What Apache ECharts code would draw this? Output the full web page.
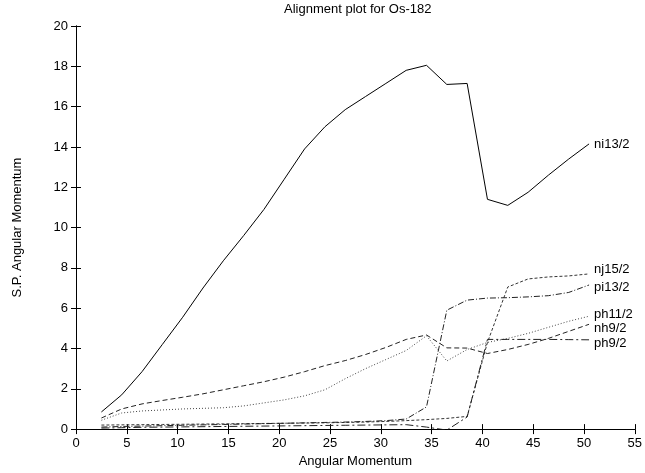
<!DOCTYPE html>
<html><head><meta charset="utf-8">
<script src="https://cdn.jsdelivr.net/npm/echarts@6/dist/echarts.min.js"></script>
<style>html,body{margin:0;padding:0;background:#fff}#c{width:645px;height:473px}</style>
</head><body><div id="c"></div>
<script>
var xs = [2.5, 4.5, 6.5, 8.5, 10.5, 12.5, 14.5, 16.5, 18.5, 20.5, 22.5, 24.5, 26.5, 28.5, 30.5, 32.5, 34.5, 36.5, 38.5, 40.5, 42.5, 44.5, 46.5, 48.5, 50.5];
var ni13 = [0.85, 1.7, 2.85, 4.2, 5.55, 7.0, 8.35, 9.6, 10.9, 12.4, 13.9, 15.0, 15.85, 16.5, 17.15, 17.8, 18.05, 17.1, 17.15, 11.4, 11.1, 11.75, 12.6, 13.4, 14.15];
var nj15 = [0.2, 0.21, 0.22, 0.23, 0.24, 0.25, 0.26, 0.27, 0.28, 0.29, 0.3, 0.31, 0.33, 0.35, 0.38, 0.42, 0.47, 0.53, 0.63, 4.3, 7.05, 7.45, 7.55, 7.6, 7.7];
var pi13 = [0.1, 0.13, 0.15, 0.17, 0.19, 0.21, 0.23, 0.25, 0.27, 0.29, 0.31, 0.33, 0.35, 0.38, 0.42, 0.5, 1.1, 5.9, 6.4, 6.5, 6.52, 6.56, 6.62, 6.78, 7.15];
var ph11 = [0.44, 0.8, 0.9, 0.95, 1.0, 1.03, 1.06, 1.15, 1.3, 1.45, 1.65, 1.95, 2.5, 3.0, 3.45, 3.9, 4.63, 3.38, 3.95, 4.3, 4.5, 4.75, 5.05, 5.35, 5.6];
var nh9 = [0.55, 1.0, 1.25, 1.42, 1.58, 1.75, 1.95, 2.15, 2.35, 2.58, 2.85, 3.15, 3.4, 3.7, 4.05, 4.45, 4.67, 4.03, 4.02, 3.75, 3.95, 4.2, 4.5, 4.85, 5.2];
var ph9 = [0.05, 0.07, 0.09, 0.1, 0.11, 0.12, 0.13, 0.14, 0.15, 0.16, 0.17, 0.18, 0.19, 0.2, 0.21, 0.22, 0.1, -0.05, 0.6, 4.45, 4.45, 4.45, 4.45, 4.44, 4.43];
var xTicks = [0, 5, 10, 15, 20, 25, 30, 35, 40, 45, 50, 55];
var yTicks = [0, 2, 4, 6, 8, 10, 12, 14, 16, 18, 20];

var FONT = 'Liberation Sans';
var FS = 13;
function pairs(ys){ return xs.map(function(x,i){ return [x, ys[i]]; }); }
function mk(name, ys, type, color, dy){
  return {
    name: name, type: 'line', data: pairs(ys), symbol: 'none', clip: true,
    lineStyle: {color: color, width: 1, type: type},
    endLabel: {show: true, formatter: '{a}', color: '#000', fontFamily: FONT, fontSize: FS, distance: 5, offset: [0, dy]},
    emphasis: {disabled: true}, animation: false
  };
}
var baseAxis = {
  axisLine: {show: true, lineStyle: {color: '#000', width: 1}},
  axisTick: {show: true, inside: true, length: 5, lineStyle: {color: '#000'}},
  splitLine: {show: false},
  axisLabel: {color: '#000', fontFamily: FONT, fontSize: FS, margin: 8}
};
var chart = echarts.init(document.getElementById('c'), null, {renderer: 'canvas'});
chart.setOption({
  animation: false,
  title: {text: 'Alignment plot for Os-182', left: 284, top: 3, padding: 0, textStyle: {fontFamily: FONT, fontSize: FS, fontWeight: 'normal', color: '#000'}},
  grid: {left: 76, right: 4, top: 26, bottom: 35, containLabel: false},
  xAxis: [
    Object.assign({}, baseAxis, {type: 'value', min: xTicks[0], max: xTicks[xTicks.length-1], interval: 5, position: 'bottom',
      name: 'Angular Momentum', nameLocation: 'middle', nameGap: 21, nameTextStyle: {fontFamily: FONT, fontSize: FS, color: '#000'}}),
    Object.assign({}, baseAxis, {type: 'value', min: xTicks[0], max: xTicks[xTicks.length-1], interval: 5, position: 'top', axisLabel: {show: false}})
  ],
  yAxis: [
    Object.assign({}, baseAxis, {type: 'value', min: yTicks[0], max: yTicks[yTicks.length-1], interval: 2, position: 'left',
      name: 'S.P. Angular Momentum', nameLocation: 'middle', nameGap: 52, nameRotate: 90, nameTextStyle: {fontFamily: FONT, fontSize: FS, color: '#000'}}),
    Object.assign({}, baseAxis, {type: 'value', min: yTicks[0], max: yTicks[yTicks.length-1], interval: 2, position: 'right', axisLabel: {show: false}})
  ],
  series: [
    mk('ni13/2', ni13, 'solid', '#000', 1),
    mk('nj15/2', nj15, [3, 2], '#333', -4),
    mk('pi13/2', pi13, [6, 2, 1, 2], '#222', 2),
    mk('ph11/2', ph11, [1, 2], '#444', -2),
    mk('nh9/2', nh9, [5, 3], '#222', 4),
    mk('ph9/2', ph9, [8, 3, 2, 3], '#222', 4)
  ]
});
</script></body></html>
